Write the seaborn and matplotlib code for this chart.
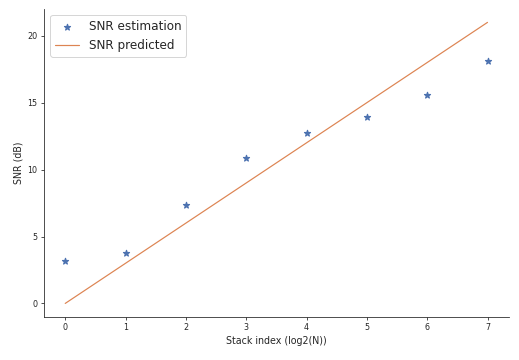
import numpy as np
import matplotlib
matplotlib.use("Agg")
import matplotlib.pyplot as plt
import seaborn as sns

stack_index = [0, 1, 2, 3, 4, 5, 6, 7]
snr_estimation = [3.15, 3.75, 7.35, 10.9, 12.7, 13.9, 15.6, 18.1]
snr_predicted = [0, 3, 6, 9, 12, 15, 18, 21]

sns.set_style("ticks")
colors = sns.color_palette("deep")

fig, ax = plt.subplots(figsize=(519 / 72, 360 / 72), dpi=72)
sns.scatterplot(x=stack_index, y=snr_estimation, marker="*", s=40, color=colors[0],
                edgecolor=colors[0], linewidth=1.2, label="SNR estimation", ax=ax)
sns.lineplot(x=stack_index, y=snr_predicted, color=colors[1], linewidth=1.2,
             label="SNR predicted", ax=ax)

ax.set_xlabel("Stack index (log2(N))", fontsize=9.5)
ax.set_ylabel("SNR (dB)", fontsize=9.5)
ax.set_xticks(range(0, 8))
ax.set_yticks([0, 5, 10, 15, 20])
ax.tick_params(labelsize=8, length=3)
ax.set_xlim(-0.35, 7.35)
ax.set_ylim(-1.0, 22.0)
ax.legend(loc="upper left", fontsize=12, handlelength=2.0)
sns.despine(ax=ax)

fig.subplots_adjust(left=0.085, right=0.98, top=0.975, bottom=0.12)
fig.savefig("out.png", dpi=72)
